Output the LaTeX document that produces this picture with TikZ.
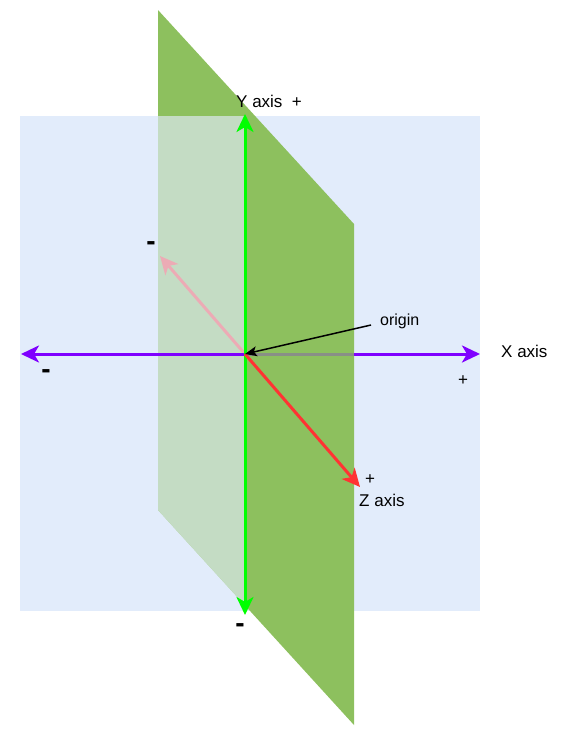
\documentclass[tikz,border=0pt]{standalone}
\usepackage{fontspec}
\setmainfont{Liberation Sans}
\usetikzlibrary{arrows.meta}
\definecolor{cPlaneBlue}{HTML}{E2ECFB}
\definecolor{cPlaneGreen}{HTML}{8DC05E}
\definecolor{cAxisX}{HTML}{7F00FF}
\definecolor{cAxisY}{HTML}{00FF00}
\definecolor{cAxisZ}{HTML}{FF3333}

\begin{document}
\begin{tikzpicture}[
    x=1pt, y=-1pt,
    tip/.style={Stealth[length=18pt, width=17pt, inset=5pt]},
    axis/.style={line width=3pt, draw=#1, {Stealth[length=18pt, width=17pt, inset=5pt]}-{Stealth[length=18pt, width=17pt, inset=5pt]}},
    half/.style={line width=3pt, draw=#1, -{Stealth[length=18pt, width=17pt, inset=5pt]}},
    lbl/.style={inner sep=0pt, font=\fontsize{17}{20}\selectfont},
    sgn/.style={inner sep=0pt, font=\fontsize{28}{30}\selectfont\bfseries},
  ]
  \useasboundingbox (0,0) rectangle (566,737);

  % planes
  \fill[cPlaneBlue] (20,116) rectangle (480,611);
  \fill[cPlaneGreen] (158,10) -- (354,224) -- (354,725) -- (158,510) -- cycle;

  \coordinate (O)    at (245,354);
  \coordinate (xpos) at (480,354);
  \coordinate (xneg) at (21,354);
  \coordinate (ypos) at (245,114);
  \coordinate (yneg) at (245,615);
  \coordinate (zpos) at (360,487);
  \coordinate (zneg) at (160,256);

  % negative z, seen through the blue plane
  \draw[half=cAxisZ] (O) -- (zneg);
  \begin{scope}
    \clip (158,10) -- (354,224) -- (354,725) -- (158,510) -- cycle;
    \fill[cPlaneBlue, opacity=0.65] (158,116) rectangle (245,611);
  \end{scope}

  \draw[axis=cAxisX] (xneg) -- (xpos);

  % right half of the green plane over the x axis
  \fill[cPlaneGreen, opacity=0.75] (245,330) rectangle (354,378);

  \draw[axis=cAxisY] (yneg) -- (ypos);
  \draw[half=cAxisZ] (O) -- (zpos);

  % labels
  \node[lbl, anchor=west] (ylbl) at (236,101) {Y axis~~+};
  \node[lbl, anchor=west] (xlbl) at (501,351) {X axis};
  \node[lbl, anchor=west] (zlbl) at (359,500) {Z axis};
  \node[lbl] (zplus) at (370,480) {+};
  \node[lbl] (xplus) at (463,381) {+};
  \node[sgn] (zmin) at (151,246) {-};
  \node[sgn] (xmin) at (46,374) {-};
  \node[sgn] (ymin) at (240,628) {-};

  \node[lbl, anchor=west, font=\fontsize{16}{19}\selectfont] (orig) at (380,321) {origin};
  \draw[line width=1.5pt, -{Stealth[length=12pt, width=10pt, inset=3pt]}] (orig.west) ++(-9,4) coordinate (oa) -- (O);
\end{tikzpicture}
\end{document}
